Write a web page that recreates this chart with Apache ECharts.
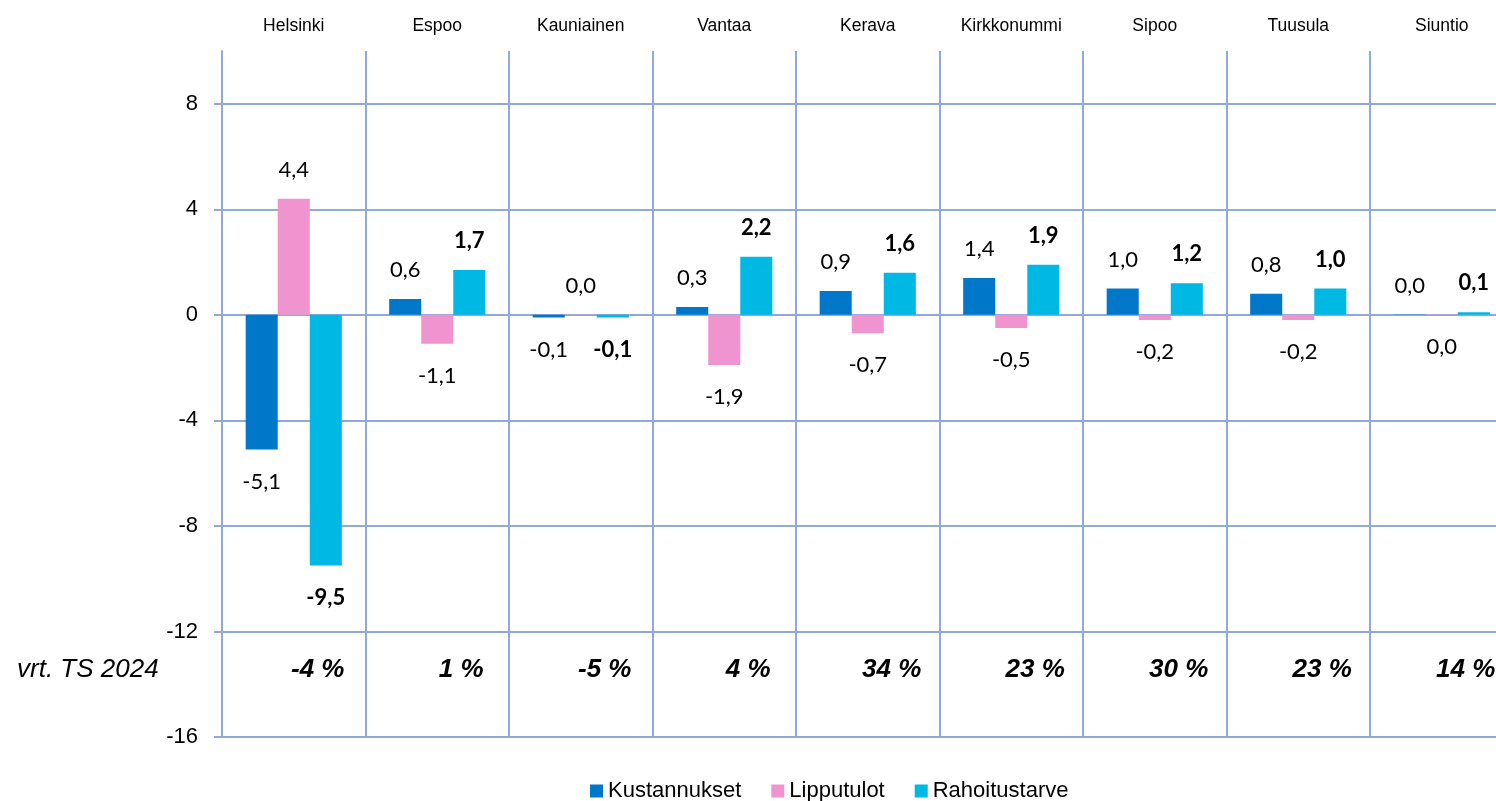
<!DOCTYPE html>
<html>
<head>
<meta charset="utf-8">
<script src="https://cdn.jsdelivr.net/npm/echarts@6/dist/echarts.min.js"></script>
<style>
  html, body { margin: 0; padding: 0; background: #fff; overflow: hidden; }
  #chart { width: 1520px; height: 801px; }
</style>
</head>
<body>
<div id="chart"></div>
<script>
// Kunnat
const municipalities = ['Helsinki', 'Espoo', 'Kauniainen', 'Vantaa', 'Kerava', 'Kirkkonummi', 'Sipoo', 'Tuusula', 'Siuntio'];

// Muutokset (milj. €)
const kustannukset   = [-5.1, 0.6, -0.1, 0.3, 0.9, 1.4, 1.0, 0.8, 0.01];
const lipputulot     = [4.4, -1.1, 0.01, -1.9, -0.7, -0.5, -0.2, -0.2, -0.01];
const rahoitustarve  = [-9.5, 1.7, -0.1, 2.2, 1.6, 1.9, 1.2, 1.0, 0.1];

// Rahoitustarpeen muutos vrt. TS 2024 (%)
const vrtTs2024 = [-4, 1, -5, 4, 34, 23, 30, 23, 14];

const yTicks = { min: -16, max: 10, interval: 4 };

const GRID_COLOR = '#8eaadb';
const fmt = v => Math.abs(v).toFixed(1) === '0.0' ? '0,0' : v.toFixed(1).replace('.', ',');

function barData(values) {
  return values.map(v => ({
    value: v,
    label: v < 0 ? { position: 'bottom', distance: 21 } : { position: 'top', distance: 18 }
  }));
}

function barSeries(name, values, color, bold) {
  return {
    name: name,
    type: 'bar',
    data: barData(values),
    itemStyle: { color: color },
    barGap: '0%',
    barCategoryGap: '33%',
    label: {
      show: true,
      fontFamily: 'Lato',
      fontSize: 22,
      fontWeight: bold ? 'bold' : 'normal',
      color: '#000',
      formatter: p => fmt(p.value)
    }
  };
}

const chart = echarts.init(document.getElementById('chart'), null, { renderer: 'canvas' });

chart.setOption({
  animation: false,
  textStyle: { fontFamily: 'Liberation Sans' },
  grid: { left: 222, top: 51, width: 1291.5, height: 686, containLabel: false },
  legend: {
    data: ['Kustannukset', 'Lipputulot', 'Rahoitustarve'],
    left: 585,
    top: 775,
    icon: 'rect',
    itemWidth: 13,
    itemHeight: 13,
    itemGap: 30,
    textStyle: { fontFamily: 'Liberation Sans', fontSize: 22, color: '#000' }
  },
  xAxis: {
    type: 'category',
    position: 'top',
    data: municipalities,
    axisLine: { show: false },
    axisTick: { show: false },
    axisLabel: { color: '#000', fontSize: 17.5, margin: 16, interval: 0 },
    splitLine: { show: true, lineStyle: { color: GRID_COLOR, width: 2 } }
  },
  yAxis: {
    type: 'value',
    min: yTicks.min,
    max: yTicks.max,
    interval: yTicks.interval,
    axisLine: { show: true, lineStyle: { color: GRID_COLOR, width: 2 } },
    axisTick: { show: true, length: 8, lineStyle: { color: GRID_COLOR, width: 2 } },
    axisLabel: {
      color: '#000', fontSize: 22, margin: 24,
      showMaxLabel: false,
      formatter: v => (v === yTicks.max ? '' : String(v))
    },
    splitLine: { show: true, showMaxLine: false, lineStyle: { color: GRID_COLOR, width: 2 } }
  },
  graphic: [{
    type: 'text',
    left: 17,
    top: 657,
    style: {
      text: 'vrt. TS 2024',
      font: 'italic 26px "Liberation Sans"',
      fill: '#000'
    }
  }],
  series: [
    barSeries('Kustannukset', kustannukset, '#0077c8', false),
    barSeries('Lipputulot', lipputulot, '#f094cf', false),
    barSeries('Rahoitustarve', rahoitustarve, '#00b8e4', true),
    {
      name: 'vrt',
      type: 'scatter',
      symbolSize: 0,
      silent: true,
      itemStyle: { opacity: 1 },
      data: vrtTs2024.map(() => -13.45),
      label: {
        show: true,
        position: 'inside',
        offset: [24, 0],
        fontFamily: 'Liberation Sans',
        fontSize: 26,
        fontStyle: 'italic',
        fontWeight: 'bold',
        color: '#000',
        formatter: p => vrtTs2024[p.dataIndex] + ' %'
      }
    }
  ]
});
</script>
</body>
</html>
